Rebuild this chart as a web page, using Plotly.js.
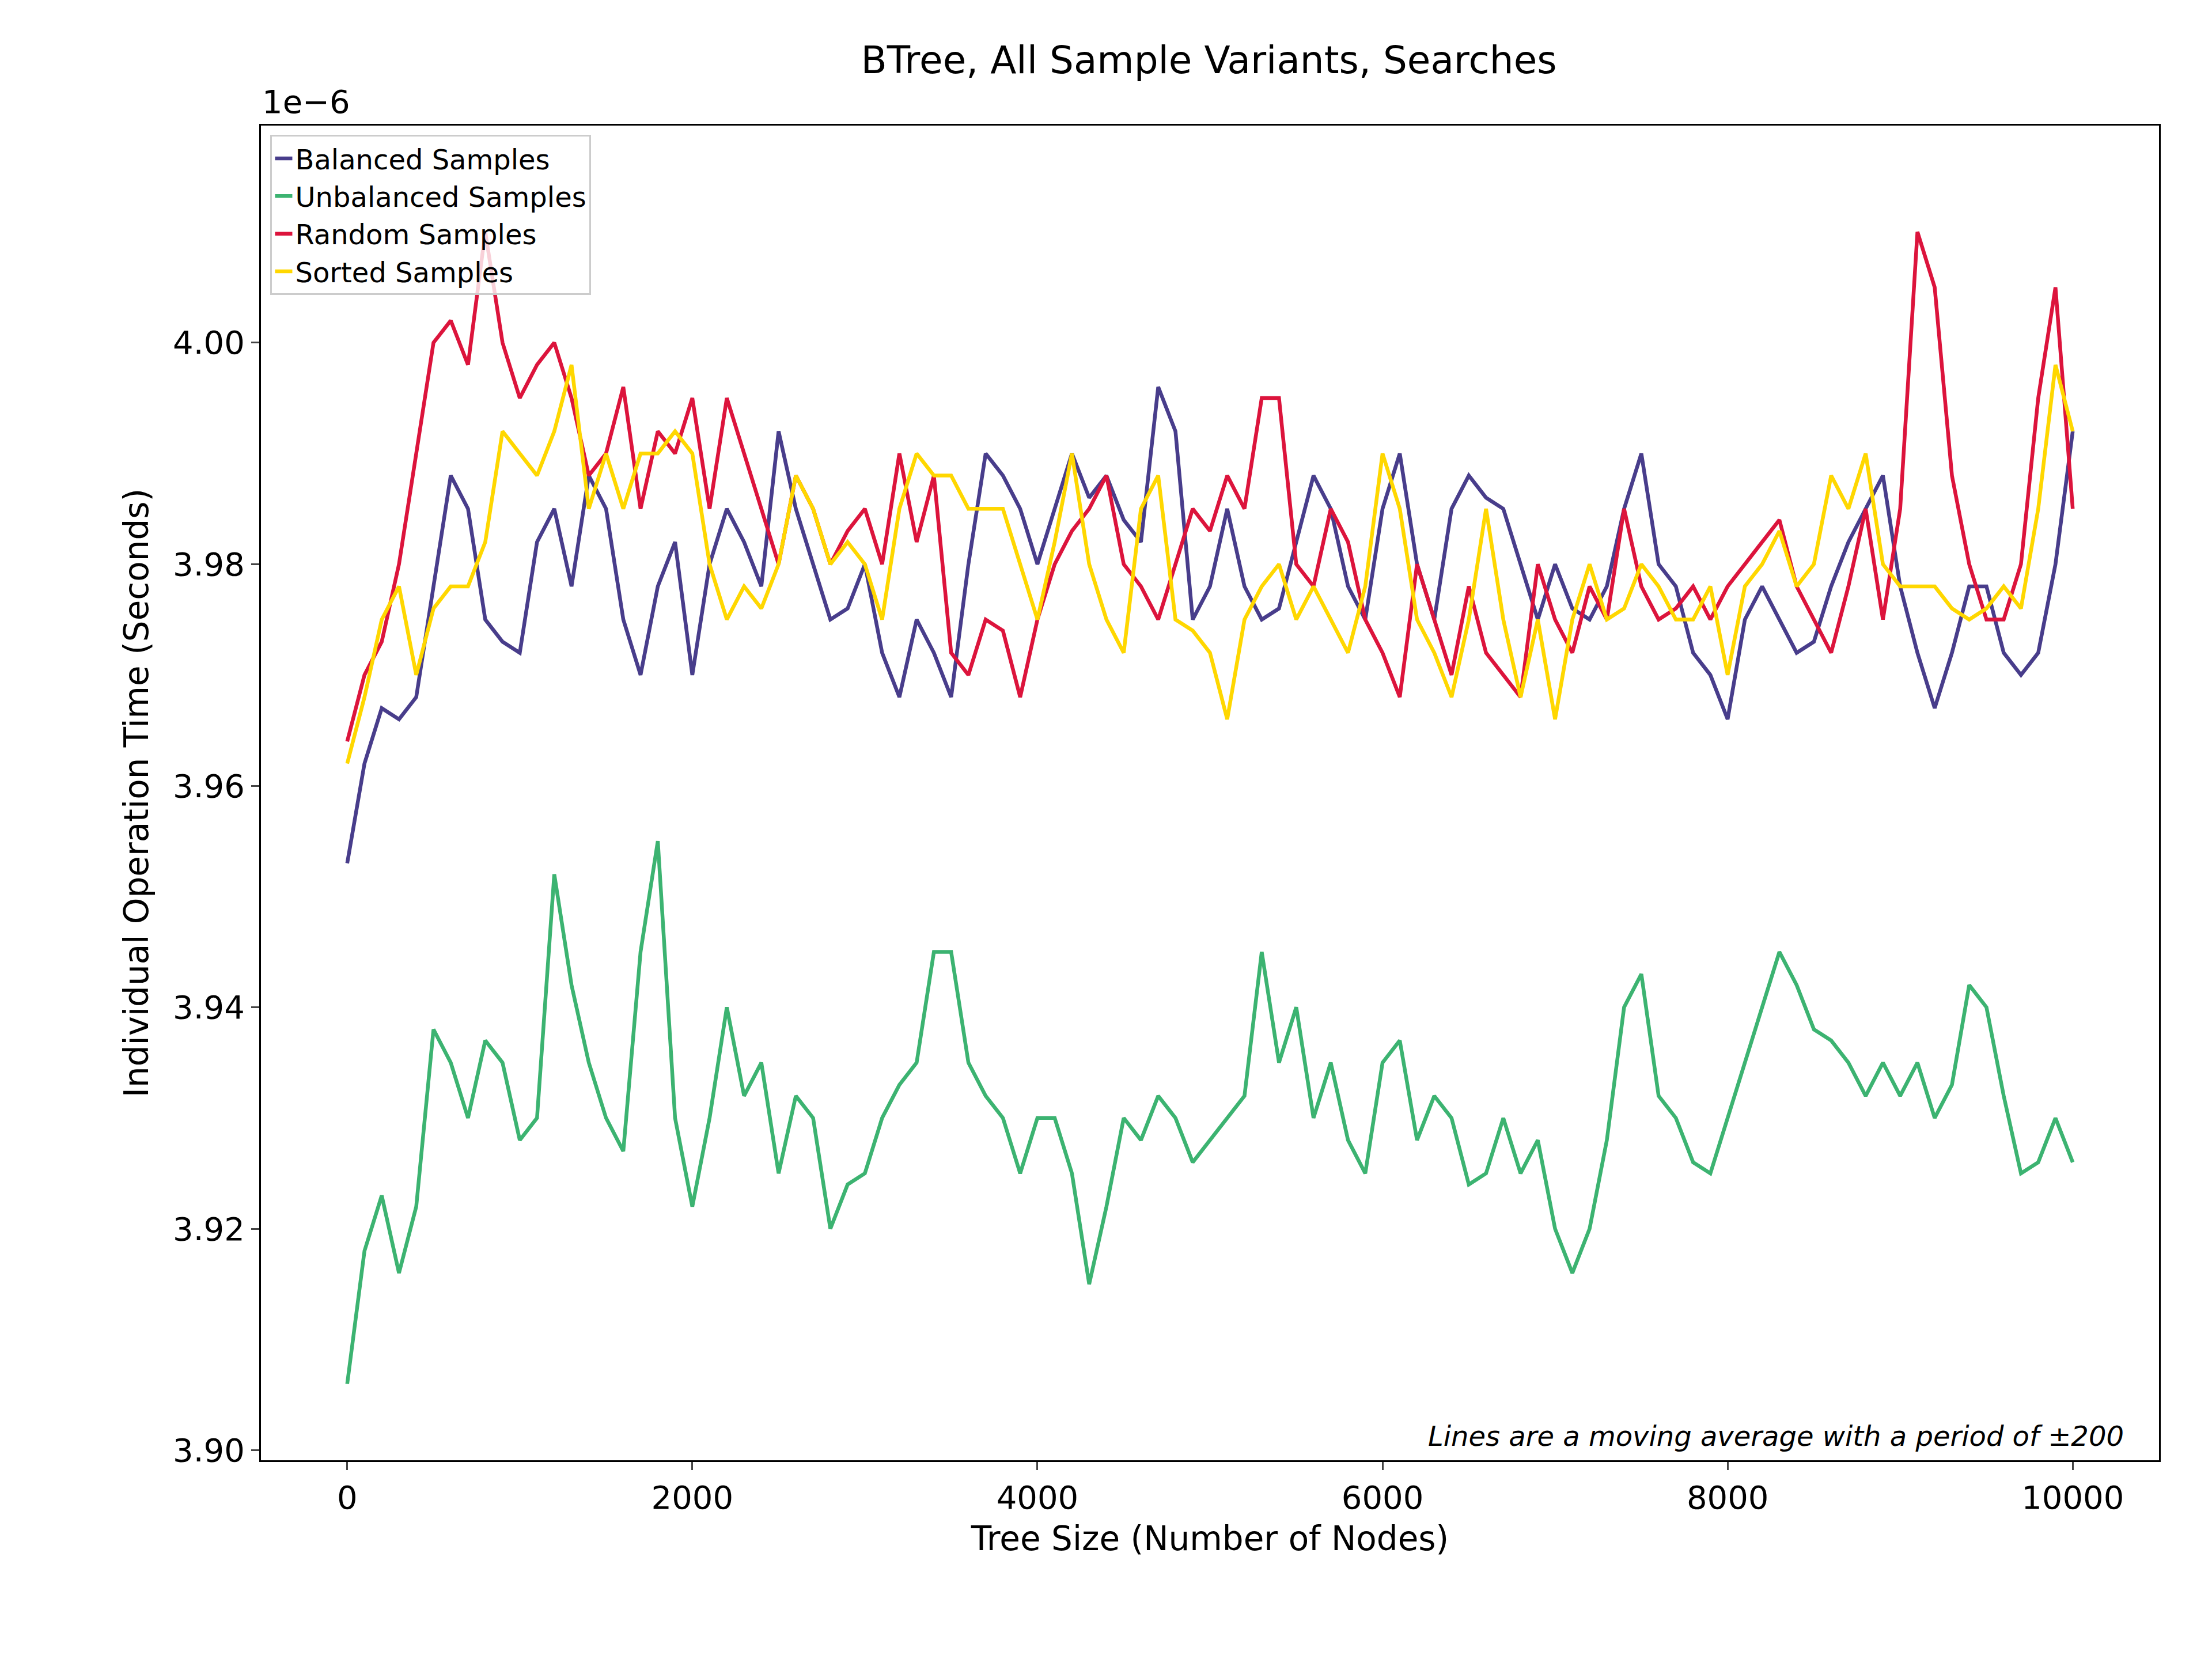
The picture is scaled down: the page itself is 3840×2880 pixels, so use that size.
<!DOCTYPE html>
<html>
<head>
<meta charset="utf-8">
<script src="https://cdn.plot.ly/plotly-3.0.1.min.js"></script>
<style>html,body{margin:0;padding:0;background:#fff}#chart{width:3840px;height:2880px}</style>
</head>
<body>
<div id="chart"></div>
<script>
// Tree sizes (every 100 nodes) and moving-average search times, in units of 1e-6 s
const treeSizes = [0,100,200,300,400,500,600,700,800,900,1000,1100,1200,1300,1400,1500,1600,1700,1800,1900,
  2000,2100,2200,2300,2400,2500,2600,2700,2800,2900,3000,3100,3200,3300,3400,3500,3600,3700,3800,3900,
  4000,4100,4200,4300,4400,4500,4600,4700,4800,4900,5000,5100,5200,5300,5400,5500,5600,5700,5800,5900,
  6000,6100,6200,6300,6400,6500,6600,6700,6800,6900,7000,7100,7200,7300,7400,7500,7600,7700,7800,7900,
  8000,8100,8200,8300,8400,8500,8600,8700,8800,8900,9000,9100,9200,9300,9400,9500,9600,9700,9800,9900,10000];

const balanced = [3.953,3.962,3.967,3.966,3.968,3.978,3.988,3.985,3.975,3.973,3.972,3.982,3.985,3.978,3.988,3.985,3.975,3.970,3.978,3.982,
  3.970,3.980,3.985,3.982,3.978,3.992,3.985,3.980,3.975,3.976,3.980,3.972,3.968,3.975,3.972,3.968,3.980,3.990,3.988,3.985,
  3.980,3.985,3.990,3.986,3.988,3.984,3.982,3.996,3.992,3.975,3.978,3.985,3.978,3.975,3.976,3.982,3.988,3.985,3.978,3.975,
  3.985,3.990,3.980,3.975,3.985,3.988,3.986,3.985,3.980,3.975,3.980,3.976,3.975,3.978,3.985,3.990,3.980,3.978,3.972,3.970,
  3.966,3.975,3.978,3.975,3.972,3.973,3.978,3.982,3.985,3.988,3.978,3.972,3.967,3.972,3.978,3.978,3.972,3.970,3.972,3.980,3.992];

const unbalanced = [3.906,3.918,3.923,3.916,3.922,3.938,3.935,3.930,3.937,3.935,3.928,3.930,3.952,3.942,3.935,3.930,3.927,3.945,3.955,3.930,
  3.922,3.930,3.940,3.932,3.935,3.925,3.932,3.930,3.920,3.924,3.925,3.930,3.933,3.935,3.945,3.945,3.935,3.932,3.930,3.925,
  3.930,3.930,3.925,3.915,3.922,3.930,3.928,3.932,3.930,3.926,3.928,3.930,3.932,3.945,3.935,3.940,3.930,3.935,3.928,3.925,
  3.935,3.937,3.928,3.932,3.930,3.924,3.925,3.930,3.925,3.928,3.920,3.916,3.920,3.928,3.940,3.943,3.932,3.930,3.926,3.925,
  3.930,3.935,3.940,3.945,3.942,3.938,3.937,3.935,3.932,3.935,3.932,3.935,3.930,3.933,3.942,3.940,3.932,3.925,3.926,3.930,3.926];

const randomS = [3.964,3.970,3.973,3.980,3.990,4.000,4.002,3.998,4.010,4.000,3.995,3.998,4.000,3.995,3.988,3.990,3.996,3.985,3.992,3.990,
  3.995,3.985,3.995,3.990,3.985,3.980,3.988,3.985,3.980,3.983,3.985,3.980,3.990,3.982,3.988,3.972,3.970,3.975,3.974,3.968,
  3.975,3.980,3.983,3.985,3.988,3.980,3.978,3.975,3.980,3.985,3.983,3.988,3.985,3.995,3.995,3.980,3.978,3.985,3.982,3.975,
  3.972,3.968,3.980,3.975,3.970,3.978,3.972,3.970,3.968,3.980,3.975,3.972,3.978,3.975,3.985,3.978,3.975,3.976,3.978,3.975,
  3.978,3.980,3.982,3.984,3.978,3.975,3.972,3.978,3.985,3.975,3.985,4.010,4.005,3.988,3.980,3.975,3.975,3.980,3.995,4.005,3.985];

const sorted = [3.962,3.968,3.975,3.978,3.970,3.976,3.978,3.978,3.982,3.992,3.990,3.988,3.992,3.998,3.985,3.990,3.985,3.990,3.990,3.992,
  3.990,3.980,3.975,3.978,3.976,3.980,3.988,3.985,3.980,3.982,3.980,3.975,3.985,3.990,3.988,3.988,3.985,3.985,3.985,3.980,
  3.975,3.982,3.990,3.980,3.975,3.972,3.985,3.988,3.975,3.974,3.972,3.966,3.975,3.978,3.980,3.975,3.978,3.975,3.972,3.978,
  3.990,3.985,3.975,3.972,3.968,3.975,3.985,3.975,3.968,3.975,3.966,3.975,3.980,3.975,3.976,3.980,3.978,3.975,3.975,3.978,
  3.970,3.978,3.980,3.983,3.978,3.980,3.988,3.985,3.990,3.980,3.978,3.978,3.978,3.976,3.975,3.976,3.978,3.976,3.985,3.998,3.992];

const seriesNames  = ['Balanced Samples', 'Unbalanced Samples', 'Random Samples', 'Sorted Samples'];
const seriesValues = [balanced, unbalanced, randomS, sorted];
const seriesColors = ['#483D8B', '#3CB371', '#DC143C', '#FFD700'];
const xTicks = [0, 2000, 4000, 6000, 8000, 10000];
const yTicks = [3.90, 3.92, 3.94, 3.96, 3.98, 4.00];

const traces = seriesValues.map((ys, i) => ({
    x: treeSizes, y: ys, type: 'scatter', mode: 'lines',
    name: seriesNames[i], line: { color: seriesColors[i], width: 6.5 }
}));

const font = 'DejaVu Sans, sans-serif';
const layout = {
    width: 3840, height: 2880,
    margin: { l: 453, r: 92, t: 218, b: 345 },
    paper_bgcolor: '#fff', plot_bgcolor: '#fff',
    font: { family: font, color: '#000', size: 54 },
    title: { text: 'BTree, All Sample Variants, Searches', x: 0.5465, xanchor: 'center', y: 0.972, yanchor: 'top', font: { size: 66 } },
    xaxis: {
        range: [-500, 10500], tickvals: xTicks, ticktext: xTicks.map(String),
        ticks: 'outside', ticklen: 14, tickwidth: 3, showgrid: false, zeroline: false,
        showline: true, mirror: true, linewidth: 3, linecolor: '#000',
        tickfont: { size: 56 },
        title: { text: 'Tree Size (Number of Nodes)', font: { size: 58 }, standoff: 20 }
    },
    yaxis: {
        range: [3.8991, 4.0196], tickvals: yTicks, tickformat: '.2f',
        ticks: 'outside', ticklen: 14, tickwidth: 3, showgrid: false, zeroline: false,
        showline: true, mirror: true, linewidth: 3, linecolor: '#000',
        tickfont: { size: 56 },
        title: { text: 'Individual Operation Time (Seconds)', font: { size: 58 }, standoff: 24 }
    },
    legend: {
        x: 0.005, y: 0.993, xanchor: 'left', yanchor: 'top',
        bgcolor: 'rgba(255,255,255,0.8)', bordercolor: '#cccccc', borderwidth: 3,
        font: { size: 48 }, tracegroupgap: 0
    },
    annotations: [
        { text: '1e\u22126', xref: 'paper', yref: 'paper', x: 0, y: 1.003, xanchor: 'left', yanchor: 'bottom',
          showarrow: false, font: { size: 56 } },
        { text: '<i>Lines are a moving average with a period of \u00b1200</i>', xref: 'paper', yref: 'paper',
          x: 0.982, y: 0.005, xanchor: 'right', yanchor: 'bottom', showarrow: false, font: { size: 48 } }
    ]
};

Plotly.newPlot('chart', traces, layout, { displayModeBar: false });
</script>
</body>
</html>
